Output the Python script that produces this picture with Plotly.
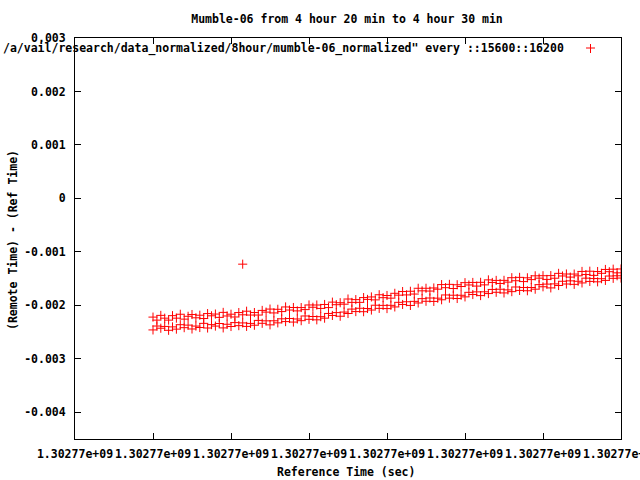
import plotly.graph_objects as go

# reference start time (sec) and offsets of the samples
t0 = 1302771000
t_offset = [100, 105, 110, 115, 120, 125, 130, 135, 140, 145,
            150, 155, 160, 165, 170, 175, 180, 185, 190, 195,
            200, 205, 210, 215, 220, 225, 230, 235, 240, 245,
            250, 255, 260, 265, 270, 275, 280, 285, 290, 295,
            300, 305, 310, 315, 320, 325, 330, 335, 340, 345,
            350, 355, 360, 365, 370, 375, 380, 385, 390, 395,
            400, 405, 410, 415, 420, 425, 430, 435, 440, 445,
            450, 455, 460, 465, 470, 475, 480, 485, 490, 495,
            500, 505, 510, 515, 520, 525, 530, 535, 540, 545,
            550, 555, 560, 565, 570, 575, 580, 585, 590, 595,
            600, 605, 610, 615, 620, 625, 630, 635, 640, 645,
            650, 655, 660, 665, 670, 675, 680, 685, 690, 695, 700]

# offsets in microseconds, upper band
upper_us = [-2220, -2277, -2188, -2240, -2277, -2193, -2240, -2167, -2258, -2205,
            -2172, -2233, -2185, -2247, -2154, -2196, -2163, -2225, -2132, -2199,
            -2166, -2218, -2135, -2177, -2110, -2182, -2135, -2182, -2095, -2127,
            -2070, -2142, -2074, -2117, -2030, -2088, -2041, -2104, -2042, -2080,
            -1993, -2036, -1994, -2058, -1984, -2042, -1940, -1988, -1951, -1979,
            -1882, -1945, -1893, -1945, -1855, -1889, -1843, -1898, -1802, -1857,
            -1816, -1866, -1775, -1810, -1742, -1805, -1737, -1789, -1681, -1729,
            -1681, -1733, -1675, -1698, -1612, -1670, -1608, -1686, -1615, -1648,
            -1576, -1619, -1572, -1640, -1570, -1617, -1524, -1572, -1534, -1591,
            -1533, -1566, -1483, -1540, -1477, -1556, -1485, -1519, -1448, -1492,
            -1446, -1515, -1444, -1493, -1402, -1451, -1414, -1472, -1415, -1448,
            -1366, -1424, -1362, -1440, -1368, -1401, -1329, -1371, -1324, -1392, -1320]

# lower band
lower_us = [-2460, -2387, -2428, -2395, -2467, -2403, -2445, -2362, -2418, -2370,
            -2442, -2388, -2415, -2337, -2424, -2361, -2388, -2340, -2422, -2354,
            -2396, -2323, -2380, -2329, -2394, -2338, -2372, -2282, -2336, -2290,
            -2365, -2289, -2328, -2252, -2304, -2246, -2313, -2255, -2287, -2199,
            -2262, -2209, -2271, -2212, -2240, -2152, -2189, -2136, -2204, -2126,
            -2153, -2070, -2117, -2055, -2119, -2059, -2088, -1998, -2057, -2001,
            -2061, -2000, -2030, -1944, -1984, -1933, -2002, -1926, -1956, -1875,
            -1924, -1863, -1927, -1866, -1896, -1806, -1866, -1811, -1872, -1812,
            -1842, -1757, -1798, -1748, -1818, -1747, -1780, -1703, -1756, -1699,
            -1768, -1711, -1744, -1657, -1721, -1667, -1727, -1667, -1698, -1613,
            -1653, -1603, -1674, -1599, -1629, -1550, -1601, -1542, -1608, -1550,
            -1581, -1492, -1553, -1499, -1560, -1502, -1534, -1452, -1495, -1447, -1490]

outlier_offset = [215]
outlier_us = [-1230]

x_ticks = [0, 100, 200, 300, 400, 500, 600, 700]
x_ticklabel = "1.30277e+09"
y_ticks = [-0.004, -0.003, -0.002, -0.001, 0, 0.001, 0.002, 0.003]
y_ticklabels = ["-0.004", "-0.003", "-0.002", "-0.001", "0", "0.001", "0.002", "0.003"]

xs = [t0 + t for t in t_offset] * 2 + [t0 + t for t in outlier_offset]
ys = [v / 1e6 for v in upper_us + lower_us + outlier_us]

FONT = dict(family="DejaVu Sans Mono", size=11.5, color="black", weight="bold")

fig = go.Figure()
fig.add_trace(go.Scatter(
    x=xs, y=ys, mode="markers", showlegend=False,
    marker=dict(symbol="cross-thin", size=6.5, color="red",
                line=dict(color="red", width=1))))

# plot area in pixels: left 75, right 621, top 38, bottom 439
W, H = 546, 401
def px(x):
    return (x - 75) / W
def py(y):
    return (439 - y) / H

fig.update_layout(
    width=640, height=480,
    margin=dict(l=75, r=19, t=38, b=41, autoexpand=False),
    paper_bgcolor="white", plot_bgcolor="white",
    font=FONT,
    title=dict(text="Mumble-06 from 4 hour 20 min to 4 hour 30 min",
               x=347/640, xanchor="center", y=1-19/480, yanchor="middle",
               font=FONT),
    xaxis=dict(range=[t0, t0 + 700], tickvals=[t0 + v for v in x_ticks],
               ticktext=[x_ticklabel] * len(x_ticks), tickangle=0,
               ticklabeloverflow="allow",
               ticks="inside", ticklen=6, tickwidth=1, tickcolor="black",
               showline=True, linecolor="black", linewidth=1, mirror="allticks",
               showgrid=False, zeroline=False, tickfont=FONT, ticklabelstandoff=4),
    yaxis=dict(range=[-0.0045, 0.003], tickvals=y_ticks, ticktext=y_ticklabels,
               ticks="inside", ticklen=6, tickwidth=1, tickcolor="black",
               showline=True, linecolor="black", linewidth=1, mirror="allticks",
               showgrid=False, zeroline=False, tickfont=FONT, ticklabelstandoff=6),
    annotations=[
        dict(text="Reference Time (sec)", xref="paper", yref="paper",
             x=px(346), y=py(472), xanchor="center", yanchor="middle",
             showarrow=False, font=FONT),
        dict(text="(Remote Time) - (Ref Time)", xref="paper", yref="paper",
             x=px(13), y=py(240), xanchor="center", yanchor="middle",
             textangle=-90, showarrow=False, font=FONT),
        dict(text='/a/vail/research/data_normalized/8hour/mumble-06_normalized" every ::15600::16200',
             xref="paper", yref="paper", x=px(566), y=py(48),
             xanchor="right", yanchor="middle", showarrow=False, font=FONT),
    ],
    shapes=[
        dict(type="line", xref="paper", yref="paper", x0=px(586), x1=px(595),
             y0=py(48), y1=py(48), line=dict(color="red", width=1)),
        dict(type="line", xref="paper", yref="paper", x0=px(590.5), x1=px(590.5),
             y0=py(44), y1=py(53), line=dict(color="red", width=1)),
    ],
)

# drop the browser's default page margin so the figure sits at (0, 0)
fig.write_html("out.html", config={"displayModeBar": False},
               post_script="document.body.style.margin='0px';")
